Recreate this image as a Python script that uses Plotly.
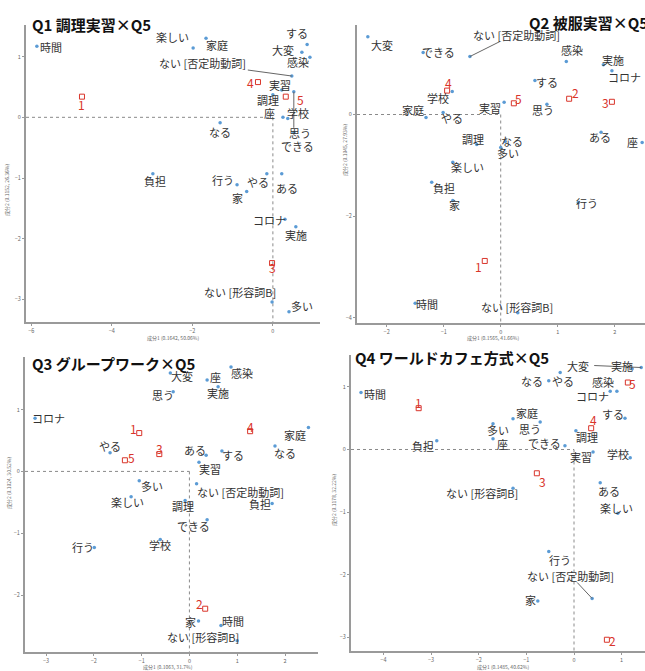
import plotly.graph_objects as go

FONT = "Noto Sans CJK JP"
WORD_COLOR = "#5b9bd5"
GROUP_COLOR = "#d9352b"
TEXT_COLOR = "#333333"
AXIS_COLOR = "#9a9a9a"

# ---------------- Q1 ----------------
q1_title = "Q1 調理実習×Q5"
q1_xtitle = "成分1 (0.1642, 50.06%)"
q1_ytitle = "成分2 (0.1152, 26.36%)"
q1_words = ["時間", "楽しい", "家庭", "する", "大変", "感染", "ない [否定助動詞]", "実習", "調理", "座",
            "学校", "思う", "できる", "なる", "負担", "行う", "やる", "ある", "家", "コロナ", "実施",
            "ない [形容詞B]", "多い"]
q1_x = [-5.86, -1.98, -1.66, 0.85, 0.72, 0.92, 0.47, 0.22, 0.00, 0.25,
        0.37, 0.52, 0.52, -1.31, -2.98, -0.89, -0.15, 0.22, -0.65, 0.30, 0.57,
        -0.02, 0.40]
q1_y = [1.17, 1.14, 1.30, 1.20, 1.07, 0.99, 0.68, 0.45, 0.37, 0.00,
        -0.02, 0.42, -0.25, -0.09, -0.93, -1.11, -0.93, -0.93, -1.22, -1.68, -1.80,
        -3.04, -3.20]
q1_groups = ["1", "3", "4", "5"]
q1_gx = [-4.74, -0.02, -0.37, 0.32]
q1_gy = [0.34, -2.40, 0.58, 0.34]
q1_xticks = [-6, -4, -2, 0]
q1_yticks = [1, 0, -1, -2, -3]

# ---------------- Q2 ----------------
q2_title = "Q2 被服実習×Q5"
q2_xtitle = "成分1 (0.1565, 41.66%)"
q2_ytitle = "成分2 (0.1045, 27.93%)"
q2_words = ["大変", "できる", "ない [否定助動詞]", "感染", "実施", "コロナ", "する", "学校", "実習", "思う",
            "家庭", "やる", "調理", "なる", "多い", "ある", "座", "楽しい", "負担", "家", "行う", "時間",
            "ない [形容詞B]"]
q2_x = [-2.33, -1.36, -0.54, 1.15, 1.80, 1.95, 0.60, -0.85, 0.06, 0.81,
        -1.31, -1.01, -0.42, 0.08, 0.00, 1.76, 2.48, -0.84, -1.21, -0.84, 1.36, -1.50,
        0.30]
q2_y = [1.53, 1.22, 1.14, 1.04, 0.98, 0.86, 0.67, 0.45, 0.24, 0.20,
        -0.06, 0.04, -0.59, -0.53, -0.65, -0.35, -0.55, -0.94, -1.33, -1.69, -1.73, -3.71,
        -3.90]
q2_groups = ["1", "2", "3", "4", "5"]
q2_gx = [-0.28, 1.20, 1.95, -0.94, 0.23]
q2_gy = [-2.88, 0.31, 0.25, 0.47, 0.22]
q2_xticks = [-2, -1, 0, 1, 2]
q2_yticks = [0, -2, -4]

# ---------------- Q3 ----------------
q3_title = "Q3 グループワーク×Q5"
q3_xtitle = "成分1 (0.1063, 31.7%)"
q3_ytitle = "成分2 (0.1024, 30.52%)"
q3_words = ["大変", "座", "感染", "思う", "実施", "コロナ", "家庭", "やる", "ある", "する",
            "なる", "実習", "多い", "ない [否定助動詞]", "楽しい", "調理", "負担", "できる", "行う", "学校",
            "家", "時間", "ない [形容詞B]"]
q3_x = [-0.40, 0.37, 0.87, -0.34, 0.60, -3.23, 2.49, -1.66, 0.35, 0.68,
        1.79, 0.20, -1.05, 0.15, -1.22, -0.09, 1.73, 0.37, -1.99, -0.61,
        0.19, 0.66, 1.00]
q3_y = [1.59, 1.48, 1.69, 1.29, 1.37, 0.86, 0.71, 0.30, 0.26, 0.33,
        0.41, 0.15, -0.15, -0.20, -0.41, -0.47, -0.52, -0.78, -1.23, -1.10,
        -2.42, -2.49, -2.74]
q3_groups = ["1", "2", "3", "4", "5"]
q3_gx = [-1.05, 0.33, -0.63, 1.27, -1.35]
q3_gy = [0.62, -2.22, 0.28, 0.65, 0.18]
q3_xticks = [-3, -2, -1, 0, 1, 2]
q3_yticks = [1, 0, -1, -2]

# ---------------- Q4 ----------------
q4_title = "Q4 ワールドカフェ方式×Q5"
q4_xtitle = "成分1 (0.1485, 40.62%)"
q4_ytitle = "成分2 (0.1178, 32.22%)"
q4_words = ["大変", "実施", "なる", "やる", "感染", "コロナ", "時間", "する", "家庭", "多い",
            "思う", "調理", "座", "できる", "負担", "実習", "学校", "ある", "ない [形容詞B]", "楽しい",
            "行う", "ない [否定助動詞]", "家"]
q4_x = [1.41, 1.22, -0.53, -0.29, 0.76, 0.90, -4.47, 1.07, -1.28, -1.70,
        -0.71, 0.04, -1.70, -0.19, -2.88, 0.40, 1.18, 0.55, -1.28, 0.92,
        -0.53, 0.38, -0.76]
q4_y = [1.31, 1.29, 1.10, 1.23, 0.93, 0.93, 0.91, 0.50, 0.49, 0.41,
        0.44, 0.30, 0.17, 0.06, 0.14, -0.04, -0.13, -0.53, -0.62, -1.02,
        -1.63, -2.38, -2.42]
q4_groups = ["1", "2", "3", "4", "5"]
q4_gx = [-3.26, 0.69, -0.78, 0.36, 1.13]
q4_gy = [0.66, -3.04, -0.38, 0.34, 1.07]
q4_xticks = [-4, -3, -2, -1, 0, 1]
q4_yticks = [1, 0, -1, -2, -3]

# ---------------- layout / styling (pixels) ----------------
W, H = 645, 671

# label offsets (dx right, dy down) in pixels from the point
q1_woff = [(14, 1), (-21, -11), (11, 7), (-10, -11), (-19, -2), (-12, 5), (-89, -13), (-2, -5), (-5, 5), (-13, -4),
           (10, -6), (6, 41), (4, 14), (0, 9), (2, 7), (-14, -5), (-9, 8), (5, 14), (-9, 7), (-15, 1), (0, 8),
           (-32, -10), (13, -6)]
q1_goff = [(0, 8), (0, 4), (-7, 0), (15, 3)]
q1_seg = {"ない [否定助動詞]": (-44, -6), "思う": (0, 36)}

q2_woff = [(14, 8), (15, 0), (47, -22), (6, -12), (10, -5), (13, 6), (12, 2), (-14, 6), (-14, 6), (-4, 6),
           (-13, -8), (9, 6), (-4, -6), (7, 0), (7, 5), (-1, 5), (-10, 0), (15, 5), (12, 6), (2, 5), (9, 1), (12, 1),
           (-1, -6)]
q2_goff = [(-6, 6), (6, -6), (-6, 1), (1, -8), (5, -5)]
q2_seg = {"ない [否定助動詞]": (30, -15)}

q3_woff = [(12, 3), (8, -3), (11, 6), (-10, 3), (0, 6), (13, 0), (-13, 7), (0, -7), (-11, -5), (11, 4),
           (10, 7), (11, 7), (13, 5), (44, 8), (-4, 5), (-2, 6), (-12, 0), (-14, 6), (-11, 0), (0, 6),
           (-8, 1), (12, -4), (-34, -4)]
q3_goff = [(-6, -5), (-6, -5), (0, -6), (0, -5), (7, -3)]
q3_seg = {}

q4_woff = [(-63, -2), (-10, -3), (-17, 0), (3, 8), (-7, -9), (-24, 5), (14, 1), (-12, -4), (14, -6), (5, 6),
           (-10, 7), (11, 6), (9, 5), (-20, -3), (-14, 5), (-12, 5), (-12, -4), (9, 8), (-31, 5), (-1, -5),
           (11, 8), (-22, -22), (-7, -1)]
q4_goff = [(0, -6), (6, 1), (6, 8), (2, -9), (5, 1)]
q4_seg = {"大変": (-47, -2), "ない [否定助動詞]": (-15, -16)}

panels = [
    dict(title=q1_title, xt=q1_xtitle, yt=q1_ytitle, words=q1_words, x=q1_x, y=q1_y,
         groups=q1_groups, gx=q1_gx, gy=q1_gy, xticks=q1_xticks, yticks=q1_yticks,
         woff=q1_woff, goff=q1_goff, seg=q1_seg,
         box=(26, 320, 25, 322), xr=(-6.13, 1.17), yr=(-3.37, 1.52),
         title_pos=(30, 25), xt_pos=(173, 338), yt_pos=(7, 190)),
    dict(title=q2_title, xt=q2_xtitle, yt=q2_ytitle, words=q2_words, x=q2_x, y=q2_y,
         groups=q2_groups, gx=q2_gx, gy=q2_gy, xticks=q2_xticks, yticks=q2_yticks,
         woff=q2_woff, goff=q2_goff, seg=q2_seg,
         box=(357, 645, 25, 323), xr=(-2.52, 2.53), yr=(-4.1, 1.76),
         title_pos=(527, 22), xt_pos=(493, 338), yt_pos=(345, 150)),
    dict(title=q3_title, xt=q3_xtitle, yt=q3_ytitle, words=q3_words, x=q3_x, y=q3_y,
         groups=q3_groups, gx=q3_gx, gy=q3_gy, xticks=q3_xticks, yticks=q3_yticks,
         woff=q3_woff, goff=q3_goff, seg=q3_seg,
         box=(25, 318, 357, 652), xr=(-3.44, 2.69), yr=(-2.92, 1.85),
         title_pos=(30, 363), xt_pos=(168, 667), yt_pos=(9, 483)),
    dict(title=q4_title, xt=q4_xtitle, yt=q4_ytitle, words=q4_words, x=q4_x, y=q4_y,
         groups=q4_groups, gx=q4_gx, gy=q4_gy, xticks=q4_xticks, yticks=q4_yticks,
         woff=q4_woff, goff=q4_goff, seg=q4_seg,
         box=(351, 645, 355, 651), xr=(-4.68, 1.49), yr=(-3.22, 1.51),
         title_pos=(353, 357), xt_pos=(503, 667), yt_pos=(334, 500)),
]

fig = go.Figure()
annotations = []
shapes = []
layout_axes = {}

for i, p in enumerate(panels, start=1):
    xa = "x" if i == 1 else f"x{i}"
    ya = "y" if i == 1 else f"y{i}"
    xkey = "xaxis" if i == 1 else f"xaxis{i}"
    ykey = "yaxis" if i == 1 else f"yaxis{i}"
    l, r, t, b = p["box"]
    common = dict(showgrid=False, zeroline=False, showline=True, linecolor=AXIS_COLOR, linewidth=2,
                  ticks="outside", ticklen=2, tickcolor=AXIS_COLOR, tickwidth=1,
                  tickfont=dict(size=5.5, color="#666666", family=FONT), fixedrange=True)
    layout_axes[xkey] = dict(common, domain=[l / W, r / W], range=list(p["xr"]), anchor=ya,
                             tickvals=p["xticks"])
    layout_axes[ykey] = dict(common, domain=[1 - b / H, 1 - t / H], range=list(p["yr"]), anchor=xa,
                             tickvals=p["yticks"])

    # dashed reference lines from origin to the axes
    shapes.append(dict(type="line", xref=xa, yref=ya, x0=p["xr"][0], x1=0, y0=0, y1=0,
                       line=dict(color="#8a8a8a", width=1, dash="dot"), layer="below"))
    shapes.append(dict(type="line", xref=xa, yref=ya, x0=0, x1=0, y0=0, y1=p["yr"][0],
                       line=dict(color="#8a8a8a", width=1, dash="dot"), layer="below"))

    # leader segments
    for w, (sx, sy) in p["seg"].items():
        k = p["words"].index(w)
        shapes.append(dict(type="line", xref=xa, yref=ya, xsizemode="pixel", ysizemode="pixel",
                           xanchor=p["x"][k], yanchor=p["y"][k], x0=0, y0=0, x1=sx, y1=-sy,
                           line=dict(color="#666666", width=1)))

    fig.add_trace(go.Scatter(x=p["x"], y=p["y"], mode="markers", xaxis=xa, yaxis=ya,
                             marker=dict(size=3.5, color=WORD_COLOR), hoverinfo="text",
                             text=p["words"], showlegend=False, cliponaxis=False))
    fig.add_trace(go.Scatter(x=p["gx"], y=p["gy"], mode="markers", xaxis=xa, yaxis=ya,
                             marker=dict(size=5, symbol="square-open", color=GROUP_COLOR,
                                         line=dict(width=1, color=GROUP_COLOR)),
                             hoverinfo="text", text=p["groups"], showlegend=False, cliponaxis=False))

    for w, wx, wy, (dx, dy) in zip(p["words"], p["x"], p["y"], p["woff"]):
        annotations.append(dict(x=wx, y=wy, xref=xa, yref=ya, text=w, showarrow=False,
                                xshift=dx, yshift=-dy,
                                font=dict(family=FONT, size=11, color=TEXT_COLOR)))
    for g, gx, gy, (dx, dy) in zip(p["groups"], p["gx"], p["gy"], p["goff"]):
        annotations.append(dict(x=gx, y=gy, xref=xa, yref=ya, text=g, showarrow=False,
                                xshift=dx, yshift=-dy,
                                font=dict(family=FONT, size=12, color=GROUP_COLOR)))

    tx, ty = p["title_pos"]
    annotations.append(dict(x=tx / W, y=1 - ty / H, xref="paper", yref="paper", text=p["title"],
                            showarrow=False, xanchor="left", yanchor="middle",
                            font=dict(family=FONT, size=15, color="#111111", weight="bold")))
    ax_, ay_ = p["xt_pos"]
    annotations.append(dict(x=ax_ / W, y=1 - ay_ / H, xref="paper", yref="paper", text=p["xt"],
                            showarrow=False, xanchor="center", yanchor="middle",
                            font=dict(family=FONT, size=5, color="#666666")))
    bx_, by_ = p["yt_pos"]
    annotations.append(dict(x=bx_ / W, y=1 - by_ / H, xref="paper", yref="paper", text=p["yt"],
                            showarrow=False, xanchor="center", yanchor="middle", textangle=-90,
                            font=dict(family=FONT, size=5, color="#666666")))

fig.update_layout(
    width=W, height=H,
    margin=dict(l=0, r=0, t=0, b=0),
    paper_bgcolor="white", plot_bgcolor="white",
    annotations=annotations, shapes=shapes,
    showlegend=False,
    **layout_axes,
)

fig.write_html("out.html", config={"displayModeBar": False},
               post_script="document.body.style.margin='0';document.body.style.padding='0';"
                           "document.body.style.overflow='hidden';")
